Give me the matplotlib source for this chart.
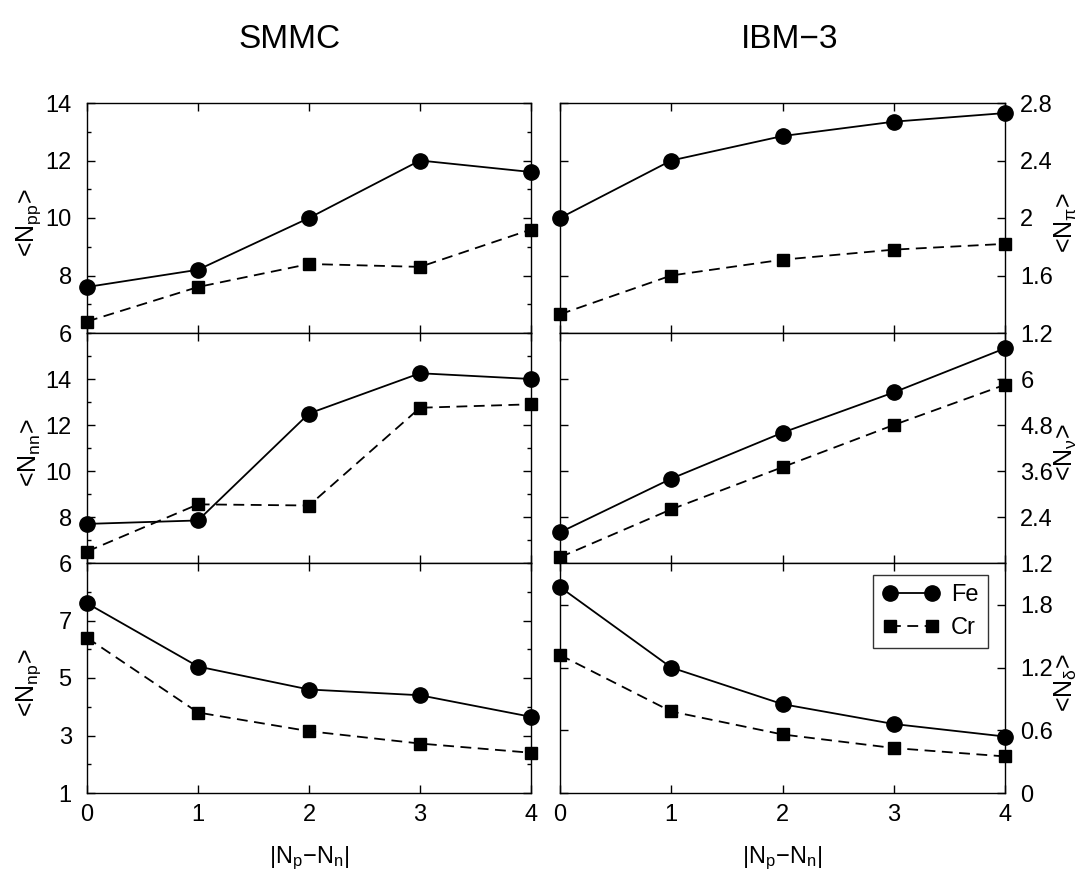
import matplotlib
matplotlib.use("Agg")
import matplotlib.pyplot as plt
from matplotlib.ticker import MultipleLocator, FormatStrFormatter

plt.rcParams['font.family'] = ['Liberation Sans', 'DejaVu Sans']
plt.rcParams['mathtext.fontset'] = 'custom'
plt.rcParams['mathtext.rm'] = 'Liberation Sans'
plt.rcParams['mathtext.it'] = 'Liberation Sans:italic'
plt.rcParams['mathtext.default'] = 'regular'

# |Np - Nn|
x = [0, 1, 2, 3, 4]

# SMMC
pp_fe = [7.6, 8.2, 10.0, 12.0, 11.6]
pp_cr = [6.4, 7.6, 8.4, 8.3, 9.6]
nn_fe = [7.7, 7.85, 12.5, 14.25, 14.0]
nn_cr = [6.5, 8.55, 8.5, 12.75, 12.9]
np_fe = [7.6, 5.4, 4.6, 4.4, 3.65]
np_cr = [6.4, 3.8, 3.15, 2.72, 2.4]

# IBM-3
pi_fe = [2.0, 2.4, 2.57, 2.67, 2.73]
pi_cr = [1.33, 1.6, 1.71, 1.78, 1.82]
nu_fe = [2.0, 3.4, 4.6, 5.65, 6.8]
nu_cr = [1.35, 2.6, 3.7, 4.8, 5.85]
de_fe = [1.97, 1.2, 0.85, 0.66, 0.54]
de_cr = [1.32, 0.78, 0.56, 0.43, 0.35]

fig = plt.figure(figsize=(10.9, 8.82), dpi=100)

W, H = 1090.0, 882.0
def box(l, t, r, b):
    return [l / W, 1 - b / H, (r - l) / W, (b - t) / H]

rows = [(103, 333), (333, 563), (563, 793)]
lcol = (87, 531)
rcol = (560, 1005)

left_cfg = [
    (pp_fe, pp_cr, (6, 14), [6, 8, 10, 12, 14], r'<N$_{pp}$>'),
    (nn_fe, nn_cr, (6, 16), [6, 8, 10, 12, 14], r'<N$_{nn}$>'),
    (np_fe, np_cr, (1, 9), [1, 3, 5, 7], r'<N$_{np}$>'),
]
right_cfg = [
    (pi_fe, pi_cr, (1.2, 2.8), [1.2, 1.6, 2.0, 2.4, 2.8], r'<N$_{π}$>'),
    (nu_fe, nu_cr, (1.2, 7.2), [1.2, 2.4, 3.6, 4.8, 6.0], r'<N$_{ν}$>'),
    (de_fe, de_cr, (0, 2.2), [0, 0.6, 1.2, 1.8], r'<N$_{δ}$>'),
]

fs_tick = 17
fs_lab = 18
lw = 1.3

def draw(ax, fe, cr):
    ax.plot(x, fe, '-', color='black', lw=lw, marker='o', ms=11,
            clip_on=False, zorder=3, label='Fe')
    ax.plot(x, cr, '--', color='black', lw=lw, marker='s', ms=8.5,
            dashes=(6, 3.6), clip_on=False, zorder=3, label='Cr')
    ax.set_xlim(0, 4)
    ax.set_xticks(x)
    ax.tick_params(which='both', direction='in', top=True, right=True,
                   labelsize=fs_tick, width=1.0)
    ax.tick_params(which='major', length=6)
    ax.tick_params(which='minor', length=3)
    ax.tick_params(axis='y', which='major', pad=11)
    ax.tick_params(axis='x', which='major', pad=8)
    for s in ax.spines.values():
        s.set_linewidth(1.0)

for i, (fe, cr, yl, yt, lab) in enumerate(left_cfg):
    ax = fig.add_axes(box(lcol[0], rows[i][0], lcol[1], rows[i][1]))
    draw(ax, fe, cr)
    ax.set_ylim(*yl)
    ax.set_yticks(yt)
    ax.yaxis.set_minor_locator(MultipleLocator(1))
    ax.yaxis.set_major_formatter(FormatStrFormatter('%g'))
    ax.set_ylabel(lab, fontsize=fs_lab)
    ax.yaxis.set_label_coords(-0.1, 0.48)
    if i < 2:
        ax.tick_params(labelbottom=False)
    else:
        ax.set_xlabel(r'|N$_p$−N$_n$|', fontsize=17, labelpad=13)

for i, (fe, cr, yl, yt, lab) in enumerate(right_cfg):
    ax = fig.add_axes(box(rcol[0], rows[i][0], rcol[1], rows[i][1]))
    draw(ax, fe, cr)
    ax.set_ylim(*yl)
    ax.set_yticks(yt)
    ax.yaxis.set_major_formatter(FormatStrFormatter('%g'))
    ax.tick_params(labelleft=False, labelright=True)
    ax.yaxis.set_label_position('right')
    ax.set_ylabel(lab, fontsize=fs_lab, rotation=90)
    ax.yaxis.set_label_coords(1.108, 0.48)
    if i < 2:
        ax.tick_params(labelbottom=False)
    else:
        ax.set_xlabel(r'|N$_p$−N$_n$|', fontsize=17, labelpad=13)
        leg = ax.legend(loc='upper right', fontsize=17, numpoints=2,
                        handlelength=2.4, handletextpad=0.5,
                        labelspacing=0.45, borderpad=0.4,
                        frameon=True, fancybox=False, edgecolor='black',
                        borderaxespad=0, bbox_to_anchor=(0.962, 0.948))
        leg.get_frame().set_linewidth(1.0)

fig.text(290 / W, 1 - 40 / H, 'SMMC', fontsize=24, ha='center', va='center')
fig.text(790 / W, 1 - 40 / H, 'IBM−3', fontsize=24, ha='center', va='center')

fig.savefig('out.png', dpi=100)
